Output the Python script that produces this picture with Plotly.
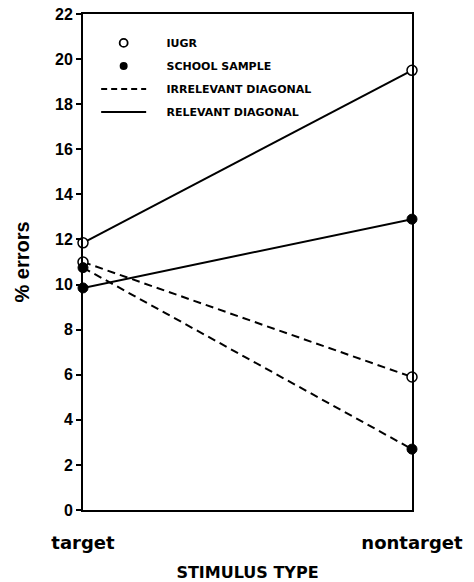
import plotly.graph_objects as go

stimulus = ["target", "nontarget"]
stim_x = [0, 1]

iugr_relevant = [11.85, 19.5]
iugr_irrelevant = [11.0, 5.9]
school_relevant = [9.85, 12.9]
school_irrelevant = [10.75, 2.7]

legend_labels = ["IUGR", "SCHOOL SAMPLE", "IRRELEVANT DIAGONAL", "RELEVANT DIAGONAL"]
y_ticks = list(range(0, 23, 2))

BOLD = "DejaVu Sans"
PAD = "\u00a0\u00a0\u00a0\u00a0"

fig = go.Figure()

open_marker = dict(symbol="circle", size=10, color="white", line=dict(color="black", width=1.5))
filled_marker = dict(symbol="circle", size=10, color="black", line=dict(color="black", width=1))

series = [
    (iugr_relevant, "solid", open_marker),
    (school_relevant, "solid", filled_marker),
    (iugr_irrelevant, "8px,5px", open_marker),
    (school_irrelevant, "8px,5px", filled_marker),
]
for vals, dash, mk in series:
    fig.add_trace(go.Scatter(
        x=stim_x, y=vals, mode="lines+markers",
        line=dict(color="black", width=2, dash=dash),
        marker=mk, cliponaxis=False, showlegend=False,
    ))

# legend keys
fig.add_trace(go.Scatter(x=[None], y=[None], mode="markers", name=PAD + legend_labels[0],
                         marker=dict(symbol="circle", size=8, color="white",
                                     line=dict(color="black", width=1.8)),
                         legendgroup="a"))
fig.add_trace(go.Scatter(x=[None], y=[None], mode="markers", name=PAD + legend_labels[1],
                         marker=dict(symbol="circle", size=8, color="black"),
                         legendgroup="b"))
fig.add_trace(go.Scatter(x=[None], y=[None], mode="lines", name=PAD + legend_labels[2],
                         line=dict(color="black", width=2, dash="6px,4px"),
                         legendgroup="c"))
fig.add_trace(go.Scatter(x=[None], y=[None], mode="lines", name=PAD + legend_labels[3],
                         line=dict(color="black", width=2),
                         legendgroup="d"))

fig.update_layout(
    width=474, height=582,
    margin=dict(l=83, r=62, t=14, b=72),
    paper_bgcolor="white", plot_bgcolor="white",
    font=dict(family="DejaVu Sans", color="black"),
    legend=dict(
        x=0.04, y=0.971, xanchor="left", yanchor="top",
        bgcolor="rgba(0,0,0,0)", borderwidth=0,
        font=dict(family=BOLD, size=11, weight="bold", color="black"),
        itemwidth=45, tracegroupgap=4,
    ),
    xaxis=dict(
        range=[0, 1], tickvals=stim_x, ticktext=stimulus,
        showline=True, linecolor="black", linewidth=2, mirror=True,
        showgrid=False, zeroline=False, ticks="", automargin=False,
        tickfont=dict(family=BOLD, size=18, weight="bold", color="black"),
        ticklabelstandoff=15,
        title=dict(text="STIMULUS TYPE", standoff=17,
                   font=dict(family=BOLD, size=16, weight="bold", color="black")),
    ),
    yaxis=dict(
        range=[0, 22], tickvals=y_ticks, automargin=False,
        showline=True, linecolor="black", linewidth=2, mirror=True,
        showgrid=False, zeroline=False,
        ticks="outside", ticklen=5, tickwidth=1.5, tickcolor="black",
        tickfont=dict(family="Liberation Sans", size=16, weight="bold", color="black"),
        title=dict(text="% errors", standoff=20,
                   font=dict(family="Liberation Sans", size=20, weight="bold", color="black")),
    ),
)

fig.write_html("out.html")
